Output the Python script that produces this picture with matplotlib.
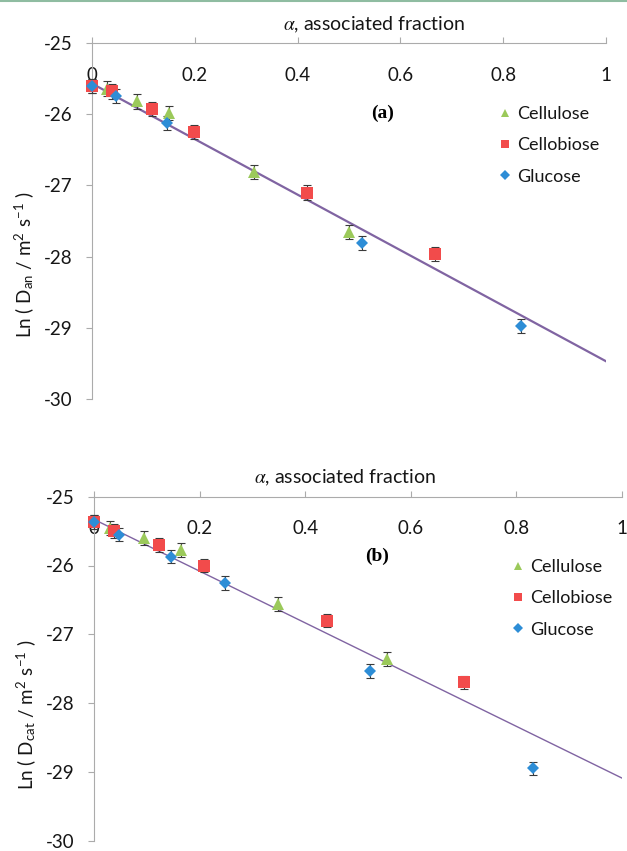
import matplotlib

matplotlib.use("Agg")
import matplotlib.pyplot as plt
from matplotlib.lines import Line2D

plt.rcParams["font.family"] = ["Lato", "DejaVu Sans"]
plt.rcParams["mathtext.fontset"] = "stix"
plt.rcParams["axes.unicode_minus"] = False

X_TICKS = [0, 0.2, 0.4, 0.6, 0.8, 1]
X_TICK_LABELS = ["0", "0.2", "0.4", "0.6", "0.8", "1"]
Y_TICKS = [-25, -26, -27, -28, -29, -30]
SERIES = ["Cellulose", "Cellobiose", "Glucose"]
ERR = 0.1

# panel (a): anion diffusion
cellulose_a_x = [0.029, 0.088, 0.149, 0.315, 0.500]
cellulose_a_y = [-25.64, -25.82, -25.98, -26.81, -27.65]
cellobiose_a_x = [0.0, 0.039, 0.116, 0.199, 0.419, 0.667]
cellobiose_a_y = [-25.60, -25.68, -25.93, -26.25, -27.10, -27.96]
glucose_a_x = [0.0, 0.047, 0.145, 0.525, 0.834]
glucose_a_y = [-25.60, -25.74, -26.12, -27.81, -28.98]
fit_a_x = [0, 1]
fit_a_y = [-25.57, -29.47]

# panel (b): cation diffusion
cellulose_b_x = [0.030, 0.095, 0.165, 0.349, 0.555]
cellulose_b_y = [-25.46, -25.60, -25.77, -26.56, -27.36]
cellobiose_b_x = [0.0, 0.038, 0.124, 0.209, 0.441, 0.701]
cellobiose_b_y = [-25.37, -25.50, -25.70, -26.00, -26.80, -27.70]
glucose_b_x = [0.0, 0.047, 0.145, 0.248, 0.523, 0.832]
glucose_b_y = [-25.37, -25.55, -25.87, -26.25, -27.53, -28.95]
fit_b_x = [0, 1]
fit_b_y = [-25.33, -29.09]

STYLES = [
    dict(marker="^", color="#9BC95A", ms=8.5),
    dict(marker="s", color="#F24B4B", ms=8.5),
    dict(marker="D", color="#2D8DD6", ms=6.5),
]
AXIS_GREY = "#ABABAB"
FIT_COLOR = "#8064A2"
TEXT = "#161616"

W, H = 627, 851


def fx(px):
    return px / W


def fy(py):
    return 1 - py / H


def draw_panel(ax, series, fit_x, fit_y, fit_lw):
    ax.plot(fit_x, fit_y, color=FIT_COLOR, lw=fit_lw, zorder=2)
    for (xs, ys), style in zip(series, STYLES):
        ax.errorbar(xs, ys, yerr=ERR, fmt="none", ecolor="#3A3A3A",
                    elinewidth=0.8, capsize=2.8, capthick=0.8,
                    zorder=3, clip_on=False)
        ax.plot(xs, ys, linestyle="none", marker=style["marker"],
                color=style["color"], ms=style["ms"], mew=0,
                zorder=4, clip_on=False)

    ax.set_xlim(0, 1)
    ax.set_ylim(-30, -25)
    ax.set_xticks(X_TICKS)
    ax.set_xticklabels(X_TICK_LABELS)
    ax.set_yticks(Y_TICKS)
    ax.set_yticklabels([str(v) for v in Y_TICKS])

    for side in ("right", "bottom"):
        ax.spines[side].set_visible(False)
    for side in ("left", "top"):
        ax.spines[side].set_color(AXIS_GREY)
        ax.spines[side].set_linewidth(0.8)

    ax.xaxis.set_ticks_position("top")
    ax.tick_params(axis="x", direction="out", length=4.3, width=0.8,
                   color=AXIS_GREY, labelsize=13.5, labelcolor=TEXT,
                   labeltop=True, labelbottom=False, pad=-33.5)
    ax.tick_params(axis="y", direction="out", length=4.3, width=0.8,
                   color=AXIS_GREY, labelsize=13.5, labelcolor=TEXT,
                   pad=10)


def add_legend(ax, x_px, y_px):
    handles = [
        Line2D([], [], linestyle="none", marker=s["marker"], color=s["color"],
               ms=s["ms"] * 0.72, mew=0)
        for s in STYLES
    ]
    leg = ax.legend(handles, SERIES, loc="upper left",
                    bbox_to_anchor=(fx(x_px), fy(y_px)),
                    bbox_transform=ax.figure.transFigure, frameon=False,
                    fontsize=13, handlelength=0.5, handletextpad=0.42,
                    labelspacing=0.85, borderpad=0, borderaxespad=0)
    for t in leg.get_texts():
        t.set_color(TEXT)


fig = plt.figure(figsize=(W / 100, H / 100), dpi=100)

ax_a = fig.add_axes([fx(92), fy(399), fx(606) - fx(92), fy(43) - fy(399)])
draw_panel(ax_a,
           [(cellulose_a_x, cellulose_a_y),
            (cellobiose_a_x, cellobiose_a_y),
            (glucose_a_x, glucose_a_y)],
           fit_a_x, fit_a_y, 1.6)
add_legend(ax_a, 500.5, 106)

ax_b = fig.add_axes([fx(94), fy(840.7), fx(622) - fx(94), fy(496.7) - fy(840.7)])
draw_panel(ax_b,
           [(cellulose_b_x, cellulose_b_y),
            (cellobiose_b_x, cellobiose_b_y),
            (glucose_b_x, glucose_b_y)],
           fit_b_x, fit_b_y, 1.0)
add_legend(ax_b, 513.5, 559)

title = r"$\alpha$, associated fraction"
fig.text(fx(283), fy(25), title, fontsize=14, ha="left", va="center",
         color=TEXT)
fig.text(fx(254), fy(478), title, fontsize=14, ha="left", va="center",
         color=TEXT)

ylab_a = (r"Ln ( D$_{\mathregular{an}}$ / m$^{\mathregular{2}}$ "
          r"s$^{\mathregular{-1}}$ )")
ylab_b = (r"Ln ( D$_{\mathregular{cat}}$ / m$^{\mathregular{2}}$ "
          r"s$^{\mathregular{-1}}$ )")
fig.text(fx(25), fy(265), ylab_a, fontsize=13.5, rotation=90,
         ha="center", va="center", color=TEXT)
fig.text(fx(27), fy(715), ylab_b, fontsize=13.5, rotation=90,
         ha="center", va="center", color=TEXT)

for label, x_px, y_px in (("(a)", 382.7, 113), ("(b)", 376.7, 556.7)):
    fig.text(fx(x_px), fy(y_px), label, fontsize=14, fontweight="bold",
             family="Liberation Serif", ha="center", va="center")

# thin rule along the top edge
fig.add_artist(Line2D([0, 1], [fy(0.8), fy(0.8)], transform=fig.transFigure,
                      color="#8FBCA1", lw=1.5))

fig.savefig("out.png", dpi=100)
